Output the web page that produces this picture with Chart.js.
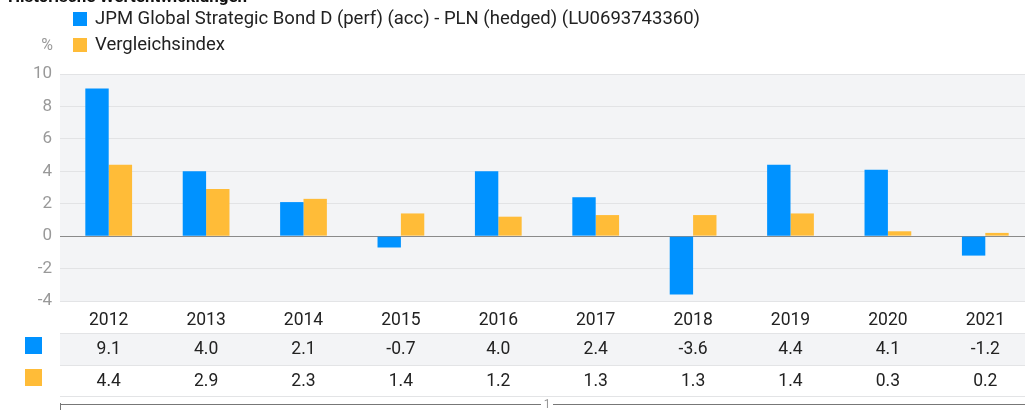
<!DOCTYPE html>
<html>
<head>
<meta charset="utf-8">
<script src="https://cdn.jsdelivr.net/npm/chart.js@4"></script>
<style>
  html, body { margin: 0; padding: 0; background: #fff; overflow: hidden; }
  #wrap { width: 1040px; height: 410px; position: relative; }
</style>
</head>
<body>
<div id="wrap"><canvas id="perfChart"></canvas></div>
<script>
const years = ['2012', '2013', '2014', '2015', '2016', '2017', '2018', '2019', '2020', '2021'];
const fundValues = [9.1, 4.0, 2.1, -0.7, 4.0, 2.4, -3.6, 4.4, 4.1, -1.2];
const indexValues = [4.4, 2.9, 2.3, 1.4, 1.2, 1.3, 1.3, 1.4, 0.3, 0.2];
const fundName = 'JPM Global Strategic Bond D (perf) (acc) - PLN (hedged) (LU0693743360)';
const indexName = 'Vergleichsindex';
const chartTitle = 'Historische Wertentwicklungen';

const blue = 'rgb(0,146,255)';
const yellow = 'rgb(255,188,56)';
const fontFam = 'Roboto, "Noto Sans", sans-serif';

Chart.defaults.font.family = fontFam;

// fond gris + tableau + légende
const decoPlugin = {
  id: 'deco',
  beforeDraw(chart) {
    const { ctx, chartArea: a } = chart;
    ctx.save();
    ctx.fillStyle = '#f3f4f6';
    ctx.fillRect(a.left, a.top, a.right - a.left, a.bottom - a.top);
    ctx.restore();
  },
  afterDraw(chart) {
    const { ctx, chartArea: a } = chart;
    const x = chart.scales.x;
    const right = chart.width;
    ctx.save();

    // titre (coupé en haut)
    ctx.fillStyle = '#111';
    ctx.font = 'bold 17px ' + fontFam;
    ctx.textBaseline = 'alphabetic';
    ctx.fillText(chartTitle, 8, 2);

    // légende
    ctx.font = '18.5px ' + fontFam;
    ctx.textBaseline = 'middle';
    ctx.fillStyle = blue;
    ctx.fillRect(73, 12, 14, 14);
    ctx.fillStyle = yellow;
    ctx.fillRect(73, 38, 14, 14);
    ctx.fillStyle = '#222';
    ctx.fillText(fundName, 95, 19);
    ctx.fillText(indexName, 95, 45);
    ctx.fillStyle = '#999';
    ctx.font = '16px ' + fontFam;
    ctx.textAlign = 'right';
    ctx.fillText('%', 53, 46);

    // tableau
    ctx.fillStyle = '#f3f4f6';
    ctx.fillRect(a.left, 333, right - a.left, 32);
    ctx.strokeStyle = '#e3e4e6';
    ctx.lineWidth = 1;
    [301.5, 333.5, 365.5, 396.5].forEach(y => {
      ctx.beginPath();
      ctx.moveTo(a.left, y);
      ctx.lineTo(right, y);
      ctx.stroke();
    });
    ctx.fillStyle = blue;
    ctx.fillRect(25, 337, 17, 17);
    ctx.fillStyle = yellow;
    ctx.fillRect(25, 369, 17, 17);

    ctx.font = '17.5px ' + fontFam;
    ctx.fillStyle = '#222';
    ctx.textAlign = 'center';
    ctx.textBaseline = 'middle';
    fundValues.forEach((v, i) => ctx.fillText(v.toFixed(1), x.getPixelForValue(i), 350));
    indexValues.forEach((v, i) => ctx.fillText(v.toFixed(1), x.getPixelForValue(i), 382));

    // barre de défilement
    ctx.strokeStyle = '#777';
    ctx.beginPath();
    ctx.moveTo(a.left, 404.5);
    ctx.lineTo(right, 404.5);
    ctx.moveTo(a.left + 0.5, 403);
    ctx.lineTo(a.left + 0.5, 410);
    ctx.stroke();
    const mid = (a.left + a.right) / 2;
    ctx.fillStyle = '#fff';
    ctx.fillRect(mid - 6, 398, 12, 12);
    ctx.fillStyle = '#999';
    ctx.font = '12px ' + fontFam;
    ctx.fillText('1', mid, 405);
    ctx.restore();
  }
};

const perfChart = new Chart(document.getElementById('perfChart'), {
  type: 'bar',
  data: {
    labels: years,
    datasets: [
      { label: fundName, data: fundValues, backgroundColor: blue },
      { label: indexName, data: indexValues, backgroundColor: yellow }
    ]
  },
  options: {
    responsive: true,
    maintainAspectRatio: false,
    animation: false,
    layout: { padding: { top: 74, right: 6, left: 0, bottom: 0 } },
    datasets: { bar: { categoryPercentage: 0.48, barPercentage: 1.0 } },
    plugins: { legend: { display: false }, tooltip: { enabled: false } },
    scales: {
      x: {
        grid: { display: false, drawTicks: false },
        border: { display: false },
        ticks: { color: '#222', font: { size: 17.5 }, padding: 9, maxRotation: 0 },
        afterFit(s) { s.height = 109; }
      },
      y: {
        min: -4, max: 10,
        ticks: { stepSize: 2, color: '#999', font: { size: 17 }, padding: 8 },
        border: { display: false },
        grid: {
          drawTicks: false,
          color: ctx => ctx.tick && ctx.tick.value === 0 ? '#8a8a8a' : '#e2e3e5'
        },
        afterFit(s) { s.width = 60; }
      }
    }
  },
  plugins: [decoPlugin]
});
</script>
</body>
</html>
